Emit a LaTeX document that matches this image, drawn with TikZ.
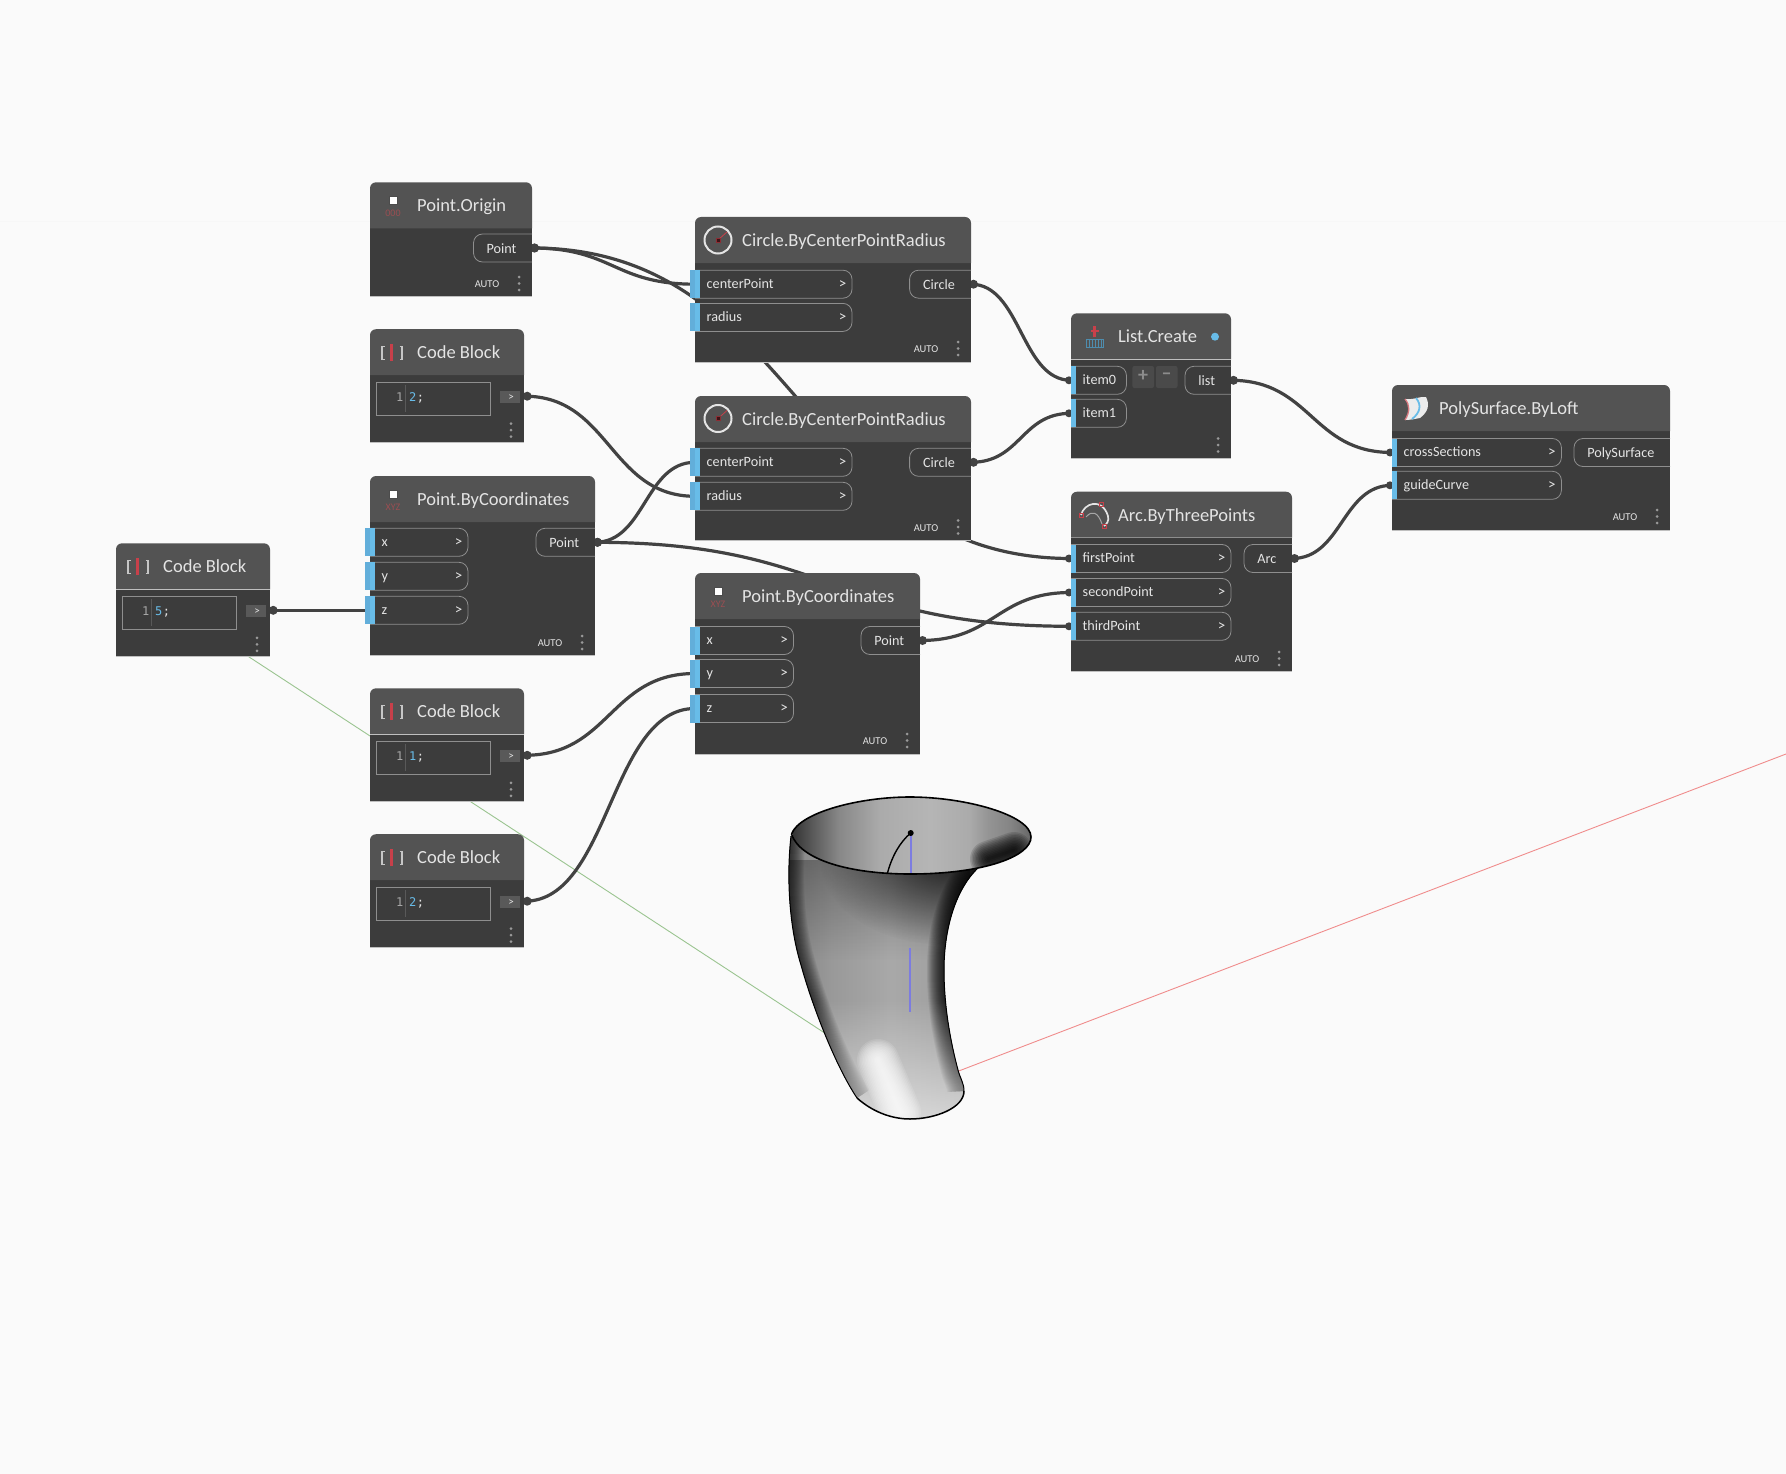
\documentclass[tikz,border=0pt]{standalone}
\usepackage{fontspec}
\setmainfont{Carlito}
\newfontfamily\codefont{DejaVu Sans Mono}
\usetikzlibrary{calc,fadings}

\definecolor{bgcol}{HTML}{FAFAFA}
\definecolor{bodycol}{HTML}{3C3C3C}
\definecolor{headcol}{HTML}{535353}
\definecolor{wirecol}{HTML}{424242}
\definecolor{linecol}{HTML}{8E8E8E}
\definecolor{textcol}{HTML}{E4E4E4}
\definecolor{bluecol}{HTML}{68BCE8}
\definecolor{paleblue}{HTML}{62AEDA}
\definecolor{iconred}{HTML}{9A4E52}
\definecolor{redbar}{HTML}{C8404A}
\definecolor{axisgreen}{HTML}{9AC490}
\definecolor{axisred}{HTML}{F08C8C}
\definecolor{axisblue}{HTML}{7C7CE0}
\definecolor{btncol}{HTML}{4A4A4A}

\pgfdeclarelayer{under}
\pgfdeclarelayer{wires}
\pgfsetlayers{under,wires,main}

\tikzfading[name=softspot, inner color=transparent!0, outer color=transparent!100]

\pgfdeclarehorizontalshading{bodyshade}{100bp}{
    color(0bp)=(black!48); color(25bp)=(black!48); color(37bp)=(black!40); color(53bp)=(black!34);
    color(62bp)=(black!36); color(75bp)=(black!40); color(100bp)=(black!40)}
\pgfdeclarehorizontalshading{rimshade}{100bp}{
    color(0bp)=(black!82); color(25bp)=(black!82); color(29bp)=(black!67); color(35bp)=(black!47);
    color(43.6bp)=(black!33); color(54bp)=(black!29); color(62bp)=(black!33);
    color(66bp)=(black!42); color(70.5bp)=(black!48); color(75bp)=(black!60); color(100bp)=(black!60)}

\tikzset{
    wire/.style={wirecol, line width=3.2pt},
    bodybox/.style={fill=bodycol, inner sep=0pt, anchor=north west},
    headfill/.style={fill=headcol, rounded corners=6pt},
    title/.style={anchor=west, inner sep=0pt, text height=13pt, text depth=0pt,
        text=textcol, font=\fontsize{18.5}{20}\selectfont},
    pill/.style={draw=linecol, line width=0.8pt, rounded corners=9pt},
    portlabel/.style={anchor=west, inner ysep=0pt, inner xsep=11.5pt, minimum height=28pt,
        text height=10pt, text depth=2pt, align=left, text=textcol, font=\fontsize{14.2}{15}\selectfont},
    outlabel/.style={anchor=east, inner ysep=0pt, inner xsep=0pt, minimum height=28pt,
        text height=11pt, text depth=0.5pt, align=center, text=textcol, font=\fontsize{14.2}{15}\selectfont},
    autotext/.style={inner sep=0pt, yshift=-1pt, text=textcol, font=\fontsize{10.5}{12}\selectfont},
    codetext/.style={inner sep=0pt, anchor=base west, font=\codefont\fontsize{12}{14}\selectfont},
    axis/.style={line width=0.9pt},
}

% title bar and body of one block
\newcommand{\dynbox}[6]{%
    \pgfmathsetmacro{\bw}{#4-#2}
    \pgfmathsetmacro{\bh}{#5-#3-46}
    \node[bodybox, minimum width=\bw pt, minimum height=\bh pt] (#1) at (#2,#3+46) {};
    \draw[white!75!black, line width=0.8pt] (#2,#5) -- (#4,#5);
    \fill[headfill] (#2,#3+46) -- (#2,#3) -- (#4,#3) -- (#4,#3+46);
    \node[title] (#1-title) at (#2+47,#3+23) {#6};
}
\newcommand{\menudots}[2]{%
    \foreach \dy in {-6.5,0,6.5} \fill[gray!80] (#1,#2+\dy) circle (1.5pt);
}
\newcommand{\autolabel}[2]{%
    \node[autotext] (#1-auto) at (#2) {AUTO};
}
\newcommand{\itemport}[5]{%
    \pgfmathsetmacro{\pw}{#4-#3-23}
    \draw[pill] (#3,#5-14) -- (#4,#5-14) -- (#4,#5+14) -- (#3,#5+14);
    \node[portlabel, text width=\pw pt] (#1) at (#3,#5) {#2};
}
\newcommand{\inport}[5]{%
    \itemport{#1}{#2}{#3}{#4}{#5}
    \node[text=textcol, inner sep=0pt, font=\fontsize{15}{15}\selectfont] (#1-more) at (#4-9.5,#5) {>};
}
\newcommand{\widestrip}[2]{%
    \fill[paleblue] (#1-5,#2-14) rectangle (#1,#2+14);
    \fill[bluecol] (#1,#2-14) rectangle (#1+5,#2+14);
}
\newcommand{\knobstrip}[2]{%
    \fill[wirecol] (#1-2,#2) circle (4pt);
    \fill[bluecol] (#1,#2-14) rectangle (#1+5,#2+14);
}
\newcommand{\outport}[5]{%
    \pgfmathsetmacro{\pw}{#4-#3-4}
    \draw[pill] (#4,#5-14) -- (#3,#5-14) -- (#3,#5+14) -- (#4,#5+14);
    \node[outlabel, text width=\pw pt] (#1) at (#4,#5) {#2\hspace*{6pt}};
}
\newcommand{\pointicon}[3]{%
    \fill[white, draw=gray!60!black, line width=0.9pt] (#1-4,#2-12) rectangle (#1+4,#2-4);
    \node[inner sep=0pt, text=iconred, font=\fontsize{10}{10}\selectfont] (#3-icon) at (#1,#2+5) {#3};
}
\newcommand{\codeblock}[4]{%
    \pgfmathsetmacro{\rx}{#2+154}
    \pgfmathsetmacro{\ry}{#3+113.5}
    \dynbox{#1}{#2}{#3}{\rx}{\ry}{Code Block}
    \draw[linecol, line width=0.8pt] (#2+6.5,#3+53) rectangle (#2+120.5,#3+86);
    \node[codetext, text=gray!70!white] (#1-num) at (#2+26,#3+72) {1};
    \draw[gray!70!black, line width=0.5pt] (#2+35.5,#3+56) -- (#2+35.5,#3+83);
    \node[codetext, text=bluecol] (#1-val) at (#2+39,#3+72) {#4};
    \node[codetext, text=textcol] (#1-semi) at (#1-val.base east) {;};
    \fill[gray!70!black] (#2+130,#3+62) rectangle (#2+150,#3+74);
    \node[text=textcol, inner sep=0pt, font=\fontsize{11}{12}\selectfont] (#1-more) at (#2+141,#3+68) {>};
    \node[inner sep=0pt] (#1-out) at (#2+154,#3+67) {};
    \menudots{#2+141}{#3+101}
    \draw[textcol!70!gray, line width=1.2pt] (#2+14.5,#3+17) -- (#2+12,#3+17) -- (#2+12,#3+30) -- (#2+14.5,#3+30);
    \draw[textcol!70!gray, line width=1.2pt] (#2+29.5,#3+17) -- (#2+32,#3+17) -- (#2+32,#3+30) -- (#2+29.5,#3+30);
    \draw[redbar, line width=3pt] (#2+21,#3+15) -- (#2+21,#3+32);
}
\newcommand{\circleicon}[2]{%
    \draw[textcol, line width=2pt] (#1,#2) circle (13.5pt);
    \draw[redbar, line width=0.8pt] (#1,#2) -- (#1+9,#2-8);
    \draw[redbar!70!black, fill=redbar!30!black, line width=0.8pt] (#1-2,#2-2) rectangle (#1+2,#2+2);
}
\newcommand{\link}[2]{%
    \draw[wire] let \p1=(#1), \p2=(#2) in (#1) .. controls ({(\x1+\x2)/2},\y1) and ({(\x1+\x2)/2},\y2) .. (#2);
    \fill[wirecol] ($(#1)+(2.5,0)$) circle (4.5pt);
}

\begin{document}
\begin{tikzpicture}[x=1pt,y=-1pt]
    \useasboundingbox (0,0) rectangle (1786,1474);

    \begin{pgfonlayer}{under}
        \fill[bgcol] (0,0) rectangle (1786,1474);
        \draw[black!3, line width=0.7pt] (0,221.5) -- (1786,221.5);
        \draw[axis, axisgreen] (230,644.5) -- (840,1043);
        \draw[axis, axisred] (930,1082) -- (1786,754);

        % the lofted surface
        \path[save path=\bodypath] (791,836) .. controls (786,880) and (790,930) .. (801,965)
            .. controls (812,1005) and (835,1065) .. (857,1098)
            .. controls (875,1114) and (895,1119) .. (910,1119)
            .. controls (935,1119) and (964,1108) .. (964,1091)
            .. controls (964,1083) and (960,1078) .. (958,1070)
            .. controls (950,1040) and (944,1005) .. (944,970)
            .. controls (944,930) and (955,890) .. (978,868) -- (900,850) -- cycle;
        \path[save path=\rimpath] (792,833) .. controls (800,812) and (860,797) .. (910,797)
            .. controls (965,797) and (1031,815) .. (1031,837)
            .. controls (1031,856) and (985,874) .. (910,874)
            .. controls (850,874) and (800,860) .. (792,833) -- cycle;
        \begin{scope}
            \clip[use path=\bodypath];
            \shade[shading=bodyshade] (788,780) rectangle (970,1130);
            \foreach \w in {2,4,...,30}
                \draw[black, opacity=.06, line width=\w pt] (791,836) .. controls (786,880) and (790,930) .. (801,965)
                    .. controls (812,1005) and (835,1065) .. (857,1098);
            \foreach \w in {2,4,...,34}
                \draw[black, opacity=.08, line width=\w pt] (964,1091) .. controls (964,1083) and (960,1078) .. (958,1070)
                    .. controls (950,1040) and (944,1005) .. (944,970)
                    .. controls (944,930) and (955,890) .. (978,868);
            \fill[black, opacity=.28, path fading=south] (785,860) rectangle (985,960);
            \fill[black, path fading=softspot, opacity=.7] (945,860) ellipse (125pt and 85pt);
            \fill[white, opacity=.6, path fading=north] (785,1000) rectangle (975,1125);
            \foreach \w in {3,6,...,42}
                \draw[white, opacity=.12, line width=\w pt, line cap=round] (878,1060) -- (900,1112);
        \end{scope}
        \draw[black, line width=1pt] (791,836) .. controls (786,880) and (790,930) .. (801,965)
            .. controls (812,1005) and (835,1065) .. (857,1098);
        \draw[black, line width=1pt] (964,1091) .. controls (964,1083) and (960,1078) .. (958,1070)
            .. controls (950,1040) and (944,1005) .. (944,970)
            .. controls (944,930) and (955,890) .. (978,868);
        \begin{scope}
            \clip[use path=\rimpath];
            \shade[shading=rimshade] (790,790) rectangle (1032,880);
            \foreach \w in {3,6,...,36}
                \draw[black, opacity=.13, line width=\w pt, line cap=round] (988,859) -- (1014,850);
        \end{scope}
        \draw[axisblue, line width=2pt] (910.5,833) -- (910.5,873);
        \draw[axisblue, line width=2pt] (910.3,948) -- (910.3,1012);
        \draw[black, line width=1.6pt] (791.5,834) .. controls (800,812) and (860,797) .. (910,797)
            .. controls (965,797) and (1031,815) .. (1031,837)
            .. controls (1031,856) and (985,874) .. (910,874)
            .. controls (850,874) and (800,860) .. (791.5,834);
        \draw[black, line width=1.5pt] (857,1098) .. controls (875,1114) and (895,1119) .. (910,1119)
            .. controls (935,1119) and (964,1108) .. (964,1091);
        \draw[black, line width=1.4pt] (887.5,873) .. controls (892,856) and (900,842) .. (910.7,833);
        \fill[black] (910.7,833) circle (3pt);
    \end{pgfonlayer}

    % Point.Origin
    \dynbox{origin}{370}{182.3}{532}{296.7}{Point.Origin}
    \pointicon{393}{208}{000}
    \outport{origin-point}{Point}{473.5}{532}{248}
    \autolabel{origin}{487,283.5}
    \menudots{519}{283.5}

    % code blocks
    \codeblock{codeB}{370}{329.2}{2}
    \codeblock{codeA}{116}{543.3}{5}
    \codeblock{codeC}{370}{688.3}{1}
    \codeblock{codeD}{370}{834.2}{2}

    % Point.ByCoordinates
    \dynbox{coordsA}{370}{476}{595}{655.7}{Point.ByCoordinates}
    \pointicon{393}{502}{XYZ}
    \inport{coordsA-x}{x}{370}{468}{542.3}
    \inport{coordsA-y}{y}{370}{468}{576.3}
    \inport{coordsA-z}{z}{370}{468}{610.3}
    \widestrip{370}{542.3}
    \widestrip{370}{576.3}
    \widestrip{370}{610.3}
    \outport{coordsA-point}{Point}{536}{595}{542.3}
    \autolabel{coordsA}{550,642.5}
    \menudots{582}{642.5}

    \dynbox{coordsB}{695}{573}{920}{754}{Point.ByCoordinates}
    \pointicon{718}{599}{XYZ}
    \inport{coordsB-x}{x}{695}{793.5}{640.5}
    \inport{coordsB-y}{y}{695}{793.5}{673.5}
    \inport{coordsB-z}{z}{695}{793.5}{708.5}
    \widestrip{695}{640.5}
    \widestrip{695}{673.5}
    \widestrip{695}{708.5}
    \outport{coordsB-point}{Point}{861}{920}{640.5}
    \autolabel{coordsB}{875,740.5}
    \menudots{907}{740.5}

    % Circle.ByCenterPointRadius
    \dynbox{circleA}{695}{217}{971}{362.3}{Circle.ByCenterPointRadius}
    \circleicon{718}{240}
    \inport{circleA-center}{centerPoint}{695}{852}{284.2}
    \inport{circleA-radius}{radius}{695}{852}{317.4}
    \widestrip{695}{284.2}
    \widestrip{695}{317.4}
    \outport{circleA-circle}{Circle}{909.6}{971}{284.2}
    \autolabel{circleA}{926,348.5}
    \menudots{958}{348.5}

    \dynbox{circleB}{695}{396}{971}{540.7}{Circle.ByCenterPointRadius}
    \circleicon{718}{418.5}
    \inport{circleB-center}{centerPoint}{695}{852}{462.3}
    \inport{circleB-radius}{radius}{695}{852}{496.3}
    \widestrip{695}{462.3}
    \widestrip{695}{496.3}
    \outport{circleB-circle}{Circle}{909.6}{971}{462.3}
    \autolabel{circleB}{926,527}
    \menudots{958}{527}

    % List.Create
    \dynbox{list}{1071}{313.3}{1231}{458}{List.Create}
    \fill[redbar] (1090.5,329.5) rectangle (1098.5,332);
    \fill[redbar] (1093.3,326) rectangle (1095.7,336.5);
    \draw[bluecol!75!black, line width=0.9pt] (1086,339) rectangle (1103,347);
    \foreach \tx in {1089,1092,1095,1098,1101} \draw[bluecol!75!black, line width=0.7pt] (\tx,339) -- (\tx,347);
    \fill[bluecol] (1215,336.7) circle (4pt);
    \itemport{list-item0}{item0}{1071}{1126.4}{380.3}
    \itemport{list-item1}{item1}{1071}{1126.4}{413.3}
    \knobstrip{1071}{380.3}
    \knobstrip{1071}{413.3}
    \fill[btncol, rounded corners=2pt] (1132.4,366) rectangle (1154,388);
    \fill[btncol, rounded corners=2pt] (1156,366) rectangle (1177.5,388);
    \node[inner sep=0pt, text=gray!90!white, font=\bfseries\fontsize{20}{20}\selectfont] (list-plus) at (1143.2,376) {+};
    \node[inner sep=0pt, text=gray!90!white, font=\bfseries\fontsize{20}{20}\selectfont] (list-minus) at (1166.7,376) {–};
    \outport{list-list}{list}{1185}{1231}{380.3}
    \menudots{1218}{445}

    % Arc.ByThreePoints
    \dynbox{arc}{1071}{491.7}{1292}{671.7}{Arc.ByThreePoints}
    \draw[gray!70!white, line width=1pt] (1086,517) .. controls (1092,510) and (1098,512) .. (1102,524);
    \draw[textcol, line width=1.7pt] (1081,515) .. controls (1084,503) and (1102,497) .. (1108,516)
        .. controls (1109,521) and (1107,524) .. (1104,526);
    \foreach \ix/\iy in {1081/515,1101/504,1104/526} \draw[redbar, line width=0.8pt] (\ix-2,\iy-2) rectangle (\ix+2,\iy+2);
    \inport{arc-first}{firstPoint}{1071}{1231}{558.5}
    \inport{arc-second}{secondPoint}{1071}{1231}{592.5}
    \inport{arc-third}{thirdPoint}{1071}{1231}{626.3}
    \knobstrip{1071}{558.5}
    \knobstrip{1071}{592.5}
    \knobstrip{1071}{626.3}
    \outport{arc-arc}{Arc}{1244}{1292}{558.5}
    \autolabel{arc}{1247,658.5}
    \menudots{1279}{658.5}

    % PolySurface.ByLoft
    \dynbox{loft}{1392}{385}{1670}{530}{PolySurface.ByLoft}
    \fill[white!85!gray] (1405,399) .. controls (1415,400) and (1420,396) .. (1426,397)
        .. controls (1430,405) and (1428,412) .. (1420,418) .. controls (1415,419) and (1410,420) .. (1405,420)
        .. controls (1410,412) and (1410,405) .. (1405,399);
    \draw[redbar!70!white, line width=1.3pt] (1405,399) .. controls (1410,405) and (1410,412) .. (1405,420);
    \draw[bluecol, line width=1.8pt] (1416,398) .. controls (1422,405) and (1420,413) .. (1412,419);
    \inport{loft-sections}{crossSections}{1392}{1561.4}{452.5}
    \inport{loft-guide}{guideCurve}{1392}{1561.4}{485.3}
    \knobstrip{1392}{452.5}
    \knobstrip{1392}{485.3}
    \outport{loft-poly}{PolySurface}{1574}{1670}{452.5}
    \autolabel{loft}{1625,516.5}
    \menudots{1657}{516.5}

    \begin{pgfonlayer}{wires}
        \link{origin-point.east}{circleA-center.west}
        \link{origin-point.east}{arc-first.west}
        \link{codeB-out.east}{circleB-radius.west}
        \link{coordsA-point.east}{circleB-center.west}
        \link{coordsA-point.east}{arc-third.west}
        \link{codeA-out.east}{coordsA-z.west}
        \link{codeC-out.east}{coordsB-y.west}
        \link{codeD-out.east}{coordsB-z.west}
        \link{coordsB-point.east}{arc-second.west}
        \link{circleA-circle.east}{list-item0.west}
        \link{circleB-circle.east}{list-item1.west}
        \link{list-list.east}{loft-sections.west}
        \link{arc-arc.east}{loft-guide.west}
    \end{pgfonlayer}
\end{tikzpicture}
\end{document}
